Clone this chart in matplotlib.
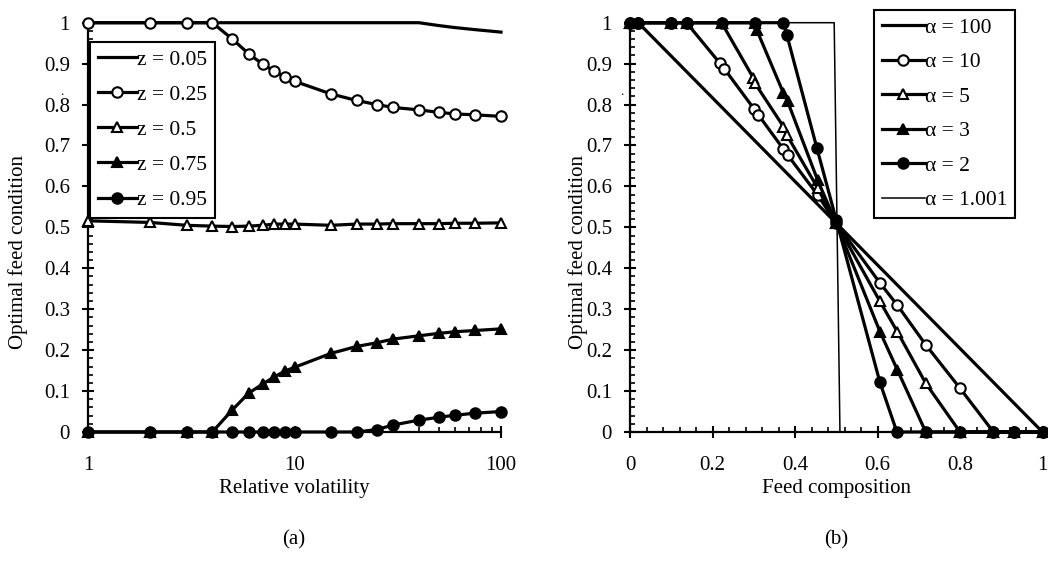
import matplotlib
matplotlib.use("Agg")
import matplotlib.pyplot as plt
from matplotlib.ticker import FixedLocator, FixedFormatter, NullFormatter

plt.rcParams['font.family'] = ['Liberation Serif', 'DejaVu Serif']

# ---------------- data: panel (a) ----------------
rel_vol = [1, 2, 3, 4, 5, 6, 7, 8, 9, 10, 15, 20, 25, 30, 40, 50, 60, 75, 100]
z005 = [1, 1, 1, 1, 1, 1, 1, 1, 1, 1, 1, 1, 1, 1, 1, 0.993, 0.988, 0.983, 0.977]
z025 = [1.0, 1.0, 1.0, 1.0, 0.960, 0.924, 0.899, 0.881, 0.868, 0.857, 0.826, 0.810,
        0.800, 0.793, 0.787, 0.781, 0.777, 0.775, 0.771]
z050 = [0.516, 0.512, 0.505, 0.503, 0.502, 0.503, 0.505, 0.508, 0.508, 0.508, 0.505,
        0.508, 0.508, 0.509, 0.509, 0.509, 0.510, 0.510, 0.511]
z075 = [0, 0, 0, 0, 0.054, 0.095, 0.117, 0.135, 0.149, 0.158, 0.192, 0.209, 0.218,
        0.227, 0.235, 0.241, 0.245, 0.248, 0.252]
z095 = [0, 0, 0, 0, 0, 0, 0, 0, 0, 0, 0, 0, 0.006, 0.017, 0.029, 0.036, 0.041, 0.046, 0.050]
labels_a = ['z = 0.05', 'z = 0.25', 'z = 0.5', 'z = 0.75', 'z = 0.95']
xticks_a = [1, 10, 100]
xticklabels_a = ['1', '10', '100']

# ---------------- data: panel (b) ----------------
a100_x = [0, 0.02, 1.0]
a100_y = [1, 1, 0]
a10_x = [0, 0.02, 0.1, 0.137, 0.218, 0.229, 0.301, 0.311, 0.372, 0.382, 0.455, 0.5,
         0.606, 0.648, 0.717, 0.8, 0.881, 0.93, 1.0]
a10_y = [1, 1, 1, 1, 0.901, 0.887, 0.789, 0.775, 0.691, 0.677, 0.579, 0.51,
         0.364, 0.31, 0.213, 0.107, 0, 0, 0]
a5_x = [0, 0.02, 0.1, 0.137, 0.222, 0.299, 0.303, 0.372, 0.38, 0.455, 0.5,
        0.606, 0.648, 0.717, 0.8, 0.881, 0.93, 1.0]
a5_y = [1, 1, 1, 1, 1, 0.865, 0.852, 0.746, 0.726, 0.596, 0.51,
        0.319, 0.245, 0.119, 0, 0, 0, 0]
a3_x = [0, 0.02, 0.1, 0.137, 0.222, 0.303, 0.307, 0.372, 0.382, 0.455, 0.5,
        0.606, 0.648, 0.717, 0.8, 0.881, 0.93, 1.0]
a3_y = [1, 1, 1, 1, 1, 1, 0.983, 0.828, 0.808, 0.615, 0.51,
        0.245, 0.152, 0, 0, 0, 0, 0]
a2_x = [0, 0.02, 0.1, 0.137, 0.222, 0.303, 0.372, 0.38, 0.453, 0.5,
        0.606, 0.647, 0.717, 0.8, 0.881, 0.93, 1.0]
a2_y = [1, 1, 1, 1, 1, 1, 1, 0.971, 0.694, 0.518,
        0.121, 0, 0, 0, 0, 0, 0]
a1001_x = [0, 0.495, 0.509, 1.0]
a1001_y = [1, 1, 0, 0]
labels_b = ['\u03b1 = 100', '\u03b1 = 10', '\u03b1 = 5', '\u03b1 = 3', '\u03b1 = 2', '\u03b1 = 1.001']
xticks_b = [0, 0.2, 0.4, 0.6, 0.8, 1.0]
xticklabels_b = ['0', '0.2', '0.4', '0.6', '0.8', '1']

yticks = [0, 0.1, 0.2, 0.3, 0.4, 0.5, 0.6, 0.7, 0.8, 0.9, 1.0]
yticklabels = ['0', '0.1', '0.2', '0.3', '0.4', '0.5', '0.6', '0.7', '0.8', '0.9', '1']

# ---------------- figure ----------------
W, H = 1048, 562
fig = plt.figure(figsize=(W / 100, H / 100), dpi=100)
FS = 15
LFS = 15.5
LW = 2.3
MS = 7.5
MEW = 1.5

def px_rect(l, r, t, b):
    return [l / W, 1 - b / H, (r - l) / W, (b - t) / H]

axa = fig.add_axes(px_rect(88, 501, 22.7, 432))
axb = fig.add_axes(px_rect(630, 1042.5, 22.7, 432))

def style(ax):
    for s in ['top', 'right']:
        ax.spines[s].set_visible(False)
    for s in ['left', 'bottom']:
        ax.spines[s].set_linewidth(1.6)
        ax.spines[s].set_color('black')
    ax.tick_params(which='major', direction='inout', length=8, width=1.5,
                   labelsize=FS, colors='black')
    ax.tick_params(which='minor', direction='in', length=3.5, width=1.2)
    ax.tick_params(axis='y', which='major', pad=9)
    ax.tick_params(axis='x', which='major', pad=13)
    ax.set_ylim(0, 1)
    ax.yaxis.set_major_locator(FixedLocator(yticks))
    ax.yaxis.set_major_formatter(FixedFormatter(yticklabels))
    ax.yaxis.set_minor_locator(FixedLocator([i * 0.02 for i in range(51) if i % 5]))
    ax.yaxis.set_minor_formatter(NullFormatter())

common = dict(color='black', lw=LW, clip_on=False, ms=MS, mew=MEW)

# panel (a)
axa.set_xscale('log')
axa.set_xlim(1, 100)
axa.plot(rel_vol, z005, label=labels_a[0], zorder=3, **common)
axa.plot(rel_vol, z025, marker='o', mfc='white', label=labels_a[1], zorder=4, **common)
axa.plot(rel_vol, z050, marker='^', mfc='white', label=labels_a[2], zorder=4, **common)
axa.plot(rel_vol, z095, marker='o', mfc='black', label=labels_a[4], zorder=4, **common)
axa.plot(rel_vol, z075, marker='^', mfc='black', label=labels_a[3], zorder=5, **common)
style(axa)
axa.xaxis.set_major_locator(FixedLocator(xticks_a))
axa.xaxis.set_major_formatter(FixedFormatter(xticklabels_a))
axa.xaxis.set_minor_locator(FixedLocator([2, 3, 4, 5, 6, 7, 8, 9, 20, 30, 40, 50, 60, 70, 80, 90]))
axa.xaxis.set_minor_formatter(NullFormatter())

h, l = axa.get_legend_handles_labels()
order = [0, 1, 2, 4, 3]
lega = axa.legend([h[i] for i in order], [l[i] for i in order],
                  loc='upper left', bbox_to_anchor=((90 - 88) / 413, (432 - 42) / 409.3),
                  fontsize=LFS, frameon=True, fancybox=False, framealpha=1,
                  edgecolor='black', handlelength=1.85, handletextpad=0.0,
                  labelspacing=0.7, borderpad=0.35, borderaxespad=0.0)
lega.get_frame().set_linewidth(1.5)

# panel (b)
axb.set_xlim(0, 1)
axb.plot(a100_x, a100_y, label=labels_b[0], zorder=3, **common)
axb.plot(a10_x, a10_y, marker='o', mfc='white', label=labels_b[1], zorder=4, **common)
axb.plot(a5_x, a5_y, marker='^', mfc='white', label=labels_b[2], zorder=4, **common)
axb.plot(a3_x, a3_y, marker='^', mfc='black', label=labels_b[3], zorder=4, **common)
axb.plot(a2_x, a2_y, marker='o', mfc='black', label=labels_b[4], zorder=4, **common)
axb.plot(a1001_x, a1001_y, color='black', lw=1.1, clip_on=False, label=labels_b[5], zorder=3)
style(axb)
axb.xaxis.set_major_locator(FixedLocator(xticks_b))
axb.xaxis.set_major_formatter(FixedFormatter(xticklabels_b))
axb.xaxis.set_minor_locator(FixedLocator([i * 0.04 for i in range(26) if i % 5]))
axb.xaxis.set_minor_formatter(NullFormatter())
legb = axb.legend(loc='upper left', bbox_to_anchor=((874 - 630) / 412.5, (432 - 10) / 409.3),
                  fontsize=LFS, frameon=True, fancybox=False, framealpha=1,
                  edgecolor='black', handlelength=2.0, handletextpad=0.0,
                  labelspacing=0.67, borderpad=0.35, borderaxespad=0.0)
legb.get_frame().set_linewidth(1.5)

# labels
fig.text(294 / W, 1 - 489 / H, 'Relative volatility', ha='center', va='center', fontsize=FS)
fig.text(294 / W, 1 - 540 / H, '(a)', ha='center', va='center', fontsize=FS)
fig.text(836 / W, 1 - 489 / H, 'Feed composition', ha='center', va='center', fontsize=FS)
fig.text(836 / W, 1 - 540 / H, '(b)', ha='center', va='center', fontsize=FS)
fig.text(18 / W, 1 - 252 / H, 'Optimal feed condition', ha='center', va='center',
         rotation=90, fontsize=FS)
fig.text(578 / W, 1 - 252 / H, 'Optimal feed condition', ha='center', va='center',
         rotation=90, fontsize=FS)
fig.text(62 / W, 1 - 92 / H, '.', ha='center', va='center', fontsize=9)
fig.text(622 / W, 1 - 92 / H, '.', ha='center', va='center', fontsize=9)

fig.savefig('out.png', dpi=100)
